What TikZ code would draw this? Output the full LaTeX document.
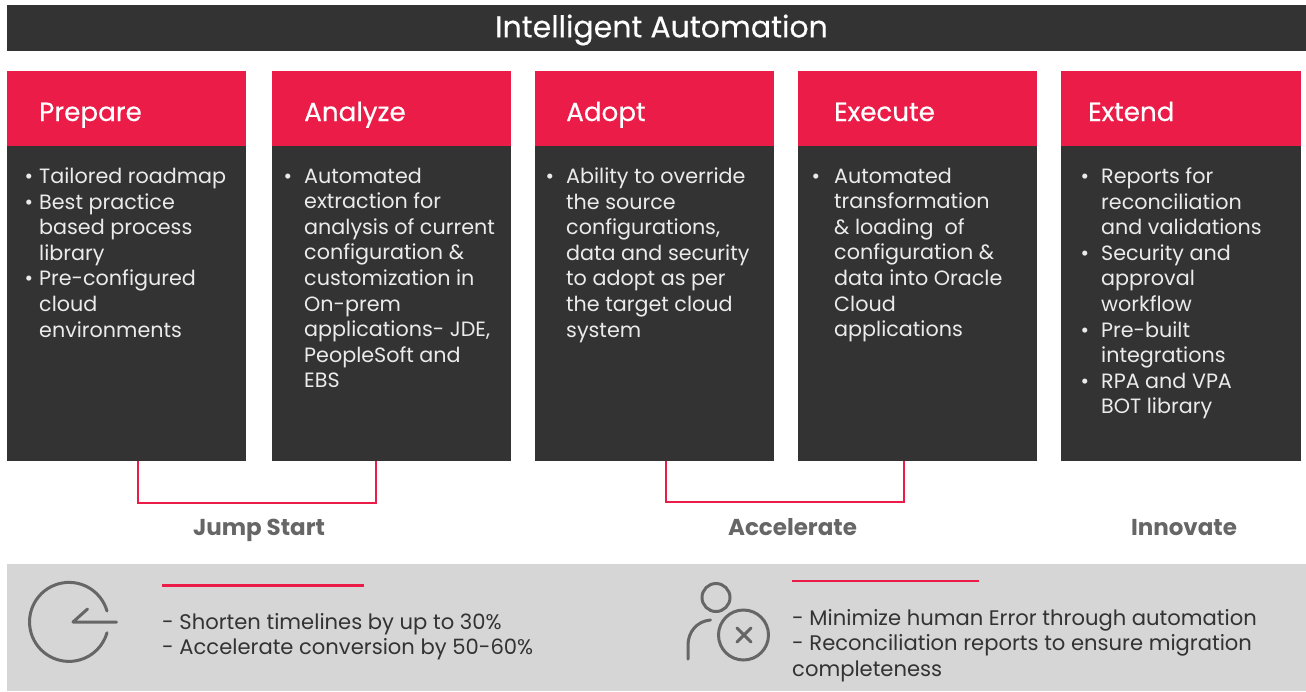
\documentclass[tikz,border=0pt]{standalone}
\usepackage{fontspec}
\setmainfont{Poppins}
\newfontfamily\heavyf[FakeBold=0.35]{Poppins}
\definecolor{dk}{HTML}{333333}
\definecolor{rd}{HTML}{EC1C48}
\definecolor{gy}{HTML}{D6D6D6}
\definecolor{ic}{HTML}{666666}
\definecolor{lb}{HTML}{666666}
\newcommand{\bu}[1][12pt]{\llap{•\hspace{#1}}\ignorespaces}
\tikzset{x=1pt,y=-1pt,
 banner/.style={fill=dk,minimum width=1299pt,minimum height=46pt,inner sep=0},
 bannertxt/.style={inner sep=0,text=white,font=\heavyf\fontsize{30}{30}\selectfont},
 head/.style={fill=rd,minimum width=239pt,minimum height=75pt,inner sep=0,anchor=north west},
 headtxt/.style={anchor=base west,inner sep=0,text=white,font=\heavyf\fontsize{26.2}{26}\selectfont},
 body/.style={fill=dk,minimum width=239pt,minimum height=315pt,inner sep=0,anchor=north west},
 bodytxt/.style={anchor=north west,inner sep=0,align=left,text=white!92!black,font=\fontsize{20.7}{25.6}\selectfont},
 brk/.style={draw=rd,line width=2pt},
 group/.style={anchor=base,inner sep=0,text=lb,font=\fontsize{23}{23}\selectfont\bfseries},
 strip/.style={fill=gy,minimum width=1299pt,minimum height=127pt,inner sep=0,anchor=north west},
 rule/.style={draw=rd,line width=2.4pt},
 note/.style={anchor=north west,inner sep=0,align=left,text=dk,font=\fontsize{21.1}{25.4}\selectfont},
 icon/.style={draw=ic,line width=3pt,line cap=round,line join=round},
}
\begin{document}
\begin{tikzpicture}
\useasboundingbox (0,0) rectangle (1306,691);
\node[banner] (title) at (656.5,28) {};
\node[bannertxt] (titletxt) at (661.5,30) {Intelligent Automation};
% columns
\node[head] (h1) at (7,71) {};
\node[head] (h2) at (272,71) {};
\node[head] (h3) at (535,71) {};
\node[head] (h4) at (798,71) {};
\node[head,minimum width=240pt] (h5) at (1061,71) {};
\node[body] (b1) at (7,146) {};
\node[body] (b2) at (272,146) {};
\node[body] (b3) at (535,146) {};
\node[body] (b4) at (798,146) {};
\node[body,minimum width=240pt] (b5) at (1061,146) {};
\node[headtxt] (t1) at (39,121) {Prepare};
\node[headtxt] (t2) at (304,121) {Analyze};
\node[headtxt] (t3) at (566,121) {Adopt};
\node[headtxt] (t4) at (834,121) {Execute};
\node[headtxt] (t5) at (1088,121) {Extend};
\node[bodytxt] (x1) at (39,167.5) {\bu[6pt] Tailored roadmap\\\bu[6pt] Best practice\\based process\\library\\\bu[6pt] Pre-configured\\cloud\\environments};
\node[bodytxt] (x2) at (304,167.5) {\bu Automated\\extraction for\\analysis of current\\configuration \&\\customization in\\On-prem\\applications- JDE,\\PeopleSoft and\\EBS};
\node[bodytxt] (x3) at (566,167.5) {\bu Ability to override\\the source\\configurations,\\data and security\\to adopt as per\\the target cloud\\system};
\node[bodytxt] (x4) at (834,167.5) {\bu[14pt] Automated\\transformation\\\& loading\ \ of\\configuration \&\\data into Oracle\\Cloud\\applications};
\node[bodytxt] (x5) at (1101,167.5) {\bu Reports for\\reconciliation\\and validations\\\bu Security and\\approval\\workflow\\\bu Pre-built\\integrations\\\bu RPA and VPA\\BOT library};
% brackets
\coordinate (c1) at ([xshift=11.5pt]b1.south);
\coordinate (c2) at ([xshift=-15.5pt]b2.south);
\coordinate (c3) at ([xshift=11.5pt]b3.south);
\coordinate (c4) at ([xshift=-13.5pt]b4.south);
\draw[brk] (c1) -- ++(0,42) -| (c2);
\draw[brk] (c3) -- ++(0,41) -| (c4);
\node[group] (g1) at (259,535) {Jump Start};
\node[group] (g2) at (792.5,535) {Accelerate};
\node[group] (g3) at (1184,535) {Innovate};
% strip
\node[strip] (s) at (7,564) {};
\draw[rule] (162,585.5) -- (364,585.5);
\draw[rule] (792,581) -- (979,581);
\node[note] (n1) at (162,613) {- Shorten timelines by up to 30\%\\- Accelerate conversion by 50-60\%};
\node[note] (n2) at (792,609) {- Minimize human Error through automation\\- Reconciliation reports to ensure migration\\completeness};
% clock icon
\draw[icon] (107,611) arc[start angle=16,end angle=344,radius=39.5pt];
\draw[icon] (87.5,609) -- (73,622) -- (116.5,622);
% person icon
\draw[icon] (716,597.5) circle[radius=14pt];
\draw[icon] (743.5,635) circle[radius=25pt];
\draw[icon] (710.5,620) .. controls (697,621) and (688,632) .. (688,645) -- (688,659);
\draw[icon] (737,628) -- (751,642) (751,628) -- (737,642);
\end{tikzpicture}
\end{document}
